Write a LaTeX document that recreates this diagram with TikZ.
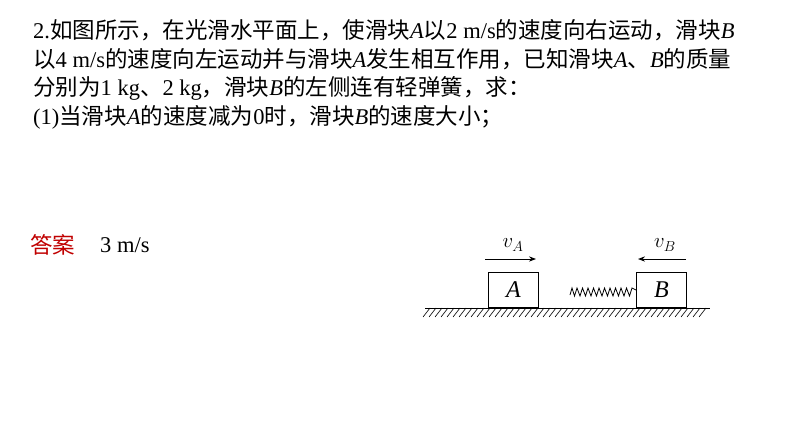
\documentclass[tikz,border=0pt]{standalone}
\usepackage{fontspec}
\usetikzlibrary{arrows.meta}
\setmainfont{Liberation Serif}
\newfontfamily\cjk{Noto Sans CJK SC}
\definecolor{ansred}{RGB}{192,0,0}
\begin{document}
\begin{tikzpicture}[x=1pt,y=-1pt,
  txt/.style={anchor=west,inner sep=0pt,font=\fontsize{22.5}{26}\selectfont},
  blk/.style={draw,line width=1pt,minimum width=50pt,minimum height=35pt,inner sep=0pt,anchor=south west,font=\fontsize{24}{26}\selectfont\itshape},
  vel/.style={-{Stealth[length=7pt]},line width=1pt}]
\useasboundingbox (0,0) rectangle (794,447);
\node[txt] (l1) at (33,30) {2.{\cjk 如图所示，在光滑水平面上，使滑块}\textit{A}{\cjk 以}2 m/s{\cjk 的速度向右运动，滑块}\textit{B}};
\node[txt] (l2) at (33,59) {{\cjk 以}4 m/s{\cjk 的速度向左运动并与滑块}\textit{A}{\cjk 发生相互作用，已知滑块}\textit{A}{\cjk 、}\textit{B}{\cjk 的质量}};
\node[txt] (l3) at (33,88) {{\cjk 分别为}1 kg{\cjk 、}2 kg{\cjk ，滑块}\textit{B}{\cjk 的左侧连有轻弹簧，求：}};
\node[txt] (l4) at (33,117) {(1){\cjk 当滑块}\textit{A}{\cjk 的速度减为}0{\cjk 时，滑块}\textit{B}{\cjk 的速度大小；}};
\node[txt,text=ansred] (ans) at (30,245) {\cjk 答案};
\node[txt] (ansv) at (100,245) {3 m/s};
% ground
\coordinate (g1) at (425,308);
\coordinate (g2) at (710,308);
\draw[line width=1pt] (g1) -- (g2);
\foreach \x in {430,436,...,710} \draw[line width=0.6pt] (\x,308) -- (\x-7,317);
\node[blk] (A) at (488,308) {A};
\node[blk] (B) at (636,308) {B};
% spring
\coordinate (s0) at (570,295);
\draw[line width=0.8pt] (s0) -- (572,288)
  \foreach \i in {0,...,10} { -- ({574.5+\i*5.5},296) -- ({577+\i*5.5},288) } -- (B.west);
% velocities
\coordinate (a1) at (485,259); \coordinate (a2) at (536,259);
\coordinate (b1) at (686,259); \coordinate (b2) at (638,259);
\draw[vel] (a1) -- (a2);
\draw[vel] (b1) -- (b2);
\node[font=\fontsize{22}{24}\selectfont] (vA) at (513,245) {$v_A$};
\node[font=\fontsize{22}{24}\selectfont] (vB) at (665,245) {$v_B$};
\end{tikzpicture}
\end{document}
